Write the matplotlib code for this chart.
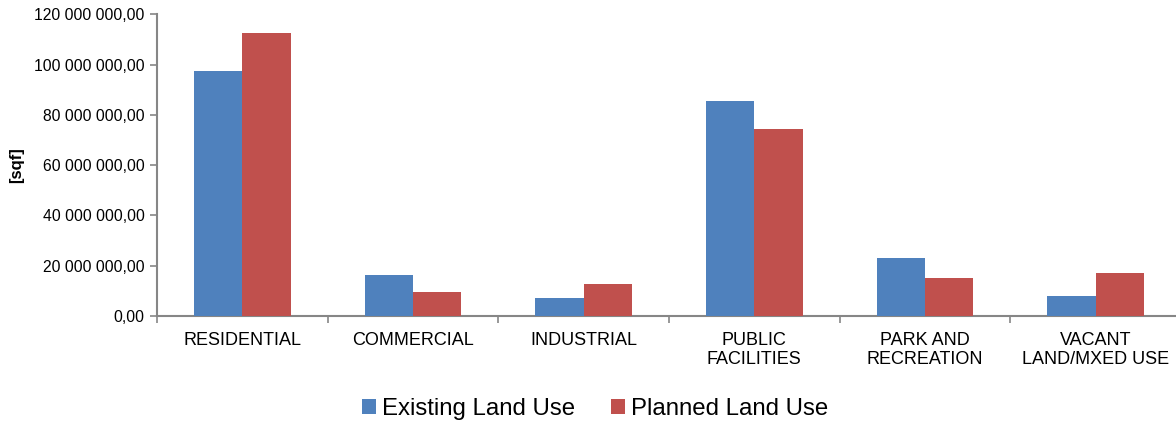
import numpy as np
import matplotlib
matplotlib.use('Agg')
import matplotlib.pyplot as plt
from matplotlib.ticker import FuncFormatter

plt.rcParams['font.family'] = ['Liberation Sans', 'DejaVu Sans']

categories = ['RESIDENTIAL', 'COMMERCIAL', 'INDUSTRIAL', 'PUBLIC\nFACILITIES',
              'PARK AND\nRECREATION', 'VACANT\nLAND/MXED USE']
existing = [97.4e6, 16.2e6, 7.2e6, 85.4e6, 23.1e6, 8.0e6]
planned = [112.7e6, 9.3e6, 12.5e6, 74.4e6, 15.1e6, 16.9e6]
series_names = ['Existing Land Use', 'Planned Land Use']

blue = '#4F81BD'
red = '#C0504D'
axis_gray = '#868686'


def fmt_num(v, pos):
    s = '{:,.2f}'.format(v)
    s = s.replace(',', ' ').replace('.', ',')
    return s


fig = plt.figure(figsize=(11.76, 4.23), dpi=100)
ax = fig.add_axes([157 / 1176, 1 - 315.7 / 423, (1181 - 157) / 1176, (315.7 - 14.5) / 423])

x = np.arange(len(categories))
w = 0.284
ax.bar(x - w / 2, existing, w, color=blue, label=series_names[0], zorder=3)
ax.bar(x + w / 2, planned, w, color=red, label=series_names[1], zorder=3)

ax.set_xlim(-0.5, len(categories) - 0.5)
ax.set_ylim(0, 120e6)
ax.set_yticks(np.arange(0, 120e6 + 1, 20e6))
ax.yaxis.set_major_formatter(FuncFormatter(fmt_num))

ax.set_xticks(x)
ax.set_xticklabels(categories, fontsize=13, color='#000000', linespacing=1.1)
ax.set_xticks(np.arange(-0.5, len(categories)), minor=True)
ax.tick_params(axis='x', which='major', length=0, pad=12)
ax.tick_params(axis='x', which='minor', length=5, width=1.2, color=axis_gray, direction='out')
ax.tick_params(axis='y', length=5, width=1.2, color=axis_gray, labelsize=11.3, pad=4)

for side in ['top', 'right']:
    ax.spines[side].set_visible(False)
for side in ['left', 'bottom']:
    ax.spines[side].set_color(axis_gray)
    ax.spines[side].set_linewidth(1.5)

ax.set_ylabel('[sqf]', fontsize=12, fontweight='bold', labelpad=7)

handles, labels = ax.get_legend_handles_labels()
fig.legend(handles, labels, loc='center', bbox_to_anchor=(595 / 1176, 1 - 409 / 423),
           ncol=2, frameon=False, fontsize=17.3, handlelength=0.6, handleheight=0.6,
           handletextpad=0.25, columnspacing=1.48)

fig.savefig('out.png', dpi=100)
